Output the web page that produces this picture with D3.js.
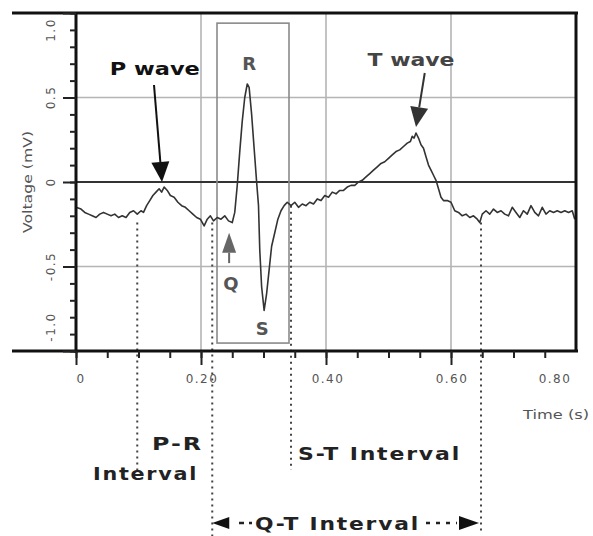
<!DOCTYPE html>
<html>
<head>
<meta charset="utf-8">
<script src="https://cdn.jsdelivr.net/npm/d3@7"></script>
<style>
  body { margin: 0; background: #fff; }
  svg { display: block; }
  .lbl { font-family: "DejaVu Sans", sans-serif; font-weight: bold; fill: #222; }
  .tick-lbl { font-family: "DejaVu Sans", sans-serif; font-size: 12px; fill: #555; }
</style>
</head>
<body>
<svg id="chart" width="593" height="536"></svg>
<script>
// ECG trace (time in s, voltage in mV)
const timeS = [0.000,0.008,0.014,0.020,0.026,0.032,0.038,0.044,0.050,0.056,0.062,0.068,0.074,0.080,0.086,0.092,0.098,0.104,0.108,0.113,
  0.118,0.123,0.128,0.133,0.137,0.141,0.146,0.151,0.157,0.163,0.169,0.175,0.181,0.187,0.193,0.199,0.205,0.210,0.215,0.220,
  0.226,0.232,0.238,0.244,0.250,0.254,0.258,0.262,0.266,0.270,0.274,0.277,0.281,0.285,0.289,0.292,0.294,0.297,0.301,0.305,
  0.309,0.313,0.318,0.323,0.328,0.333,0.338,0.344,0.350,0.356,0.362,0.368,0.374,0.380,0.386,0.392,0.398,0.404,0.410,0.416,
  0.422,0.428,0.434,0.440,0.446,0.452,0.458,0.464,0.470,0.476,0.482,0.488,0.494,0.500,0.506,0.512,0.518,0.524,0.530,0.535,
  0.538,0.541,0.544,0.548,0.552,0.556,0.560,0.564,0.568,0.572,0.576,0.580,0.584,0.588,0.594,0.600,0.606,0.612,0.618,0.624,
  0.630,0.636,0.642,0.646,0.650,0.656,0.662,0.668,0.674,0.680,0.686,0.692,0.698,0.704,0.710,0.716,0.722,0.728,0.734,0.740,
  0.746,0.752,0.758,0.764,0.770,0.776,0.782,0.788,0.794,0.798];
const voltageMV = [-0.15,-0.16,-0.18,-0.19,-0.20,-0.21,-0.19,-0.18,-0.19,-0.20,-0.19,-0.21,-0.20,-0.21,-0.18,-0.17,-0.19,-0.17,-0.18,-0.14,
  -0.11,-0.08,-0.06,-0.04,-0.06,-0.03,-0.05,-0.08,-0.09,-0.12,-0.14,-0.15,-0.17,-0.19,-0.21,-0.22,-0.26,-0.22,-0.20,-0.23,
  -0.21,-0.22,-0.20,-0.23,-0.24,-0.18,-0.02,0.18,0.36,0.50,0.58,0.56,0.40,0.20,0.00,-0.14,-0.40,-0.62,-0.76,-0.66,
  -0.52,-0.38,-0.30,-0.22,-0.17,-0.14,-0.12,-0.14,-0.12,-0.15,-0.13,-0.14,-0.12,-0.13,-0.10,-0.11,-0.08,-0.09,-0.06,-0.07,
  -0.05,-0.05,-0.03,-0.02,-0.02,0.00,0.01,0.03,0.05,0.07,0.09,0.11,0.12,0.14,0.16,0.18,0.19,0.21,0.23,0.24,
  0.27,0.26,0.29,0.26,0.22,0.20,0.15,0.10,0.07,0.04,0.01,-0.04,-0.09,-0.11,-0.11,-0.12,-0.17,-0.18,-0.20,-0.19,
  -0.21,-0.20,-0.22,-0.24,-0.19,-0.17,-0.19,-0.16,-0.18,-0.17,-0.19,-0.20,-0.15,-0.18,-0.21,-0.17,-0.19,-0.14,-0.18,-0.20,
  -0.15,-0.19,-0.17,-0.18,-0.17,-0.18,-0.17,-0.18,-0.17,-0.22];

// axis ticks and labels
const xMajor = [0, 0.2, 0.4, 0.6];
const xLabels = ["0", "0.20", "0.40", "0.60", "0.80"];
const yMajor = [-1, -0.5, 0, 0.5, 1];
const yLabels = ["-1.0", "-0.5", "0", "0.5", "1.0"];

// interval markers (time of each dotted line)
const markerTimes = [0.098, 0.218, 0.344, 0.648];

const svg = d3.select('#chart');

const x = d3.scaleLinear().domain([0, 0.8]).range([76, 576]);
const y = d3.scaleLinear().domain([-1, 1]).range([351, 13]);

// grid lines
svg.append('g').selectAll('line')
  .data([0.2, 0.4, 0.6])
  .join('line')
  .attr('x1', d => x(d)).attr('x2', d => x(d))
  .attr('y1', y(1)).attr('y2', y(-1))
  .attr('stroke', '#b4b4b4').attr('stroke-width', 1.6);

svg.append('g').selectAll('line')
  .data([-0.5, 0.5])
  .join('line')
  .attr('x1', x(0)).attr('x2', x(0.8))
  .attr('y1', d => y(d)).attr('y2', d => y(d))
  .attr('stroke', '#b4b4b4').attr('stroke-width', 1.6);

svg.append('line')
  .attr('x1', x(0)).attr('x2', x(0.8))
  .attr('y1', y(0)).attr('y2', y(0))
  .attr('stroke', '#333').attr('stroke-width', 2);

// box round the QRS complex
svg.append('rect')
  .attr('x', x(0.2256)).attr('y', y(0.94))
  .attr('width', x(0.3408) - x(0.2256))
  .attr('height', y(-0.953) - y(0.94))
  .attr('fill', 'none').attr('stroke', '#8a8a8a').attr('stroke-width', 1.6);

// dotted interval lines
const markerTop = [-0.24, -0.24, -0.14, -0.24];
const markerBottom = [470, 536, 470, 532];
svg.append('g').selectAll('line')
  .data(markerTimes)
  .join('line')
  .attr('x1', d => x(d)).attr('x2', d => x(d))
  .attr('y1', (d, i) => y(markerTop[i]))
  .attr('y2', (d, i) => markerBottom[i])
  .attr('stroke', '#444').attr('stroke-width', 2)
  .attr('stroke-dasharray', '2,4');

// ECG trace
const line = d3.line()
  .x((d, i) => x(timeS[i]))
  .y(d => y(d));
svg.append('path')
  .datum(voltageMV)
  .attr('d', line)
  .attr('fill', 'none')
  .attr('stroke', '#333')
  .attr('stroke-width', 1.6)
  .attr('stroke-linejoin', 'round');

// frame
svg.append('g')
  .attr('stroke', '#111').attr('stroke-width', 3)
  .call(g => {
    g.append('line').attr('x1', 12).attr('x2', 578).attr('y1', y(1)).attr('y2', y(1));
    g.append('line').attr('x1', 12).attr('x2', 578).attr('y1', y(-1)).attr('y2', y(-1));
    g.append('line').attr('x1', x(0)).attr('x2', x(0)).attr('y1', y(1)).attr('y2', y(-1) + 2);
    g.append('line').attr('x1', x(0.8)).attr('x2', x(0.8)).attr('y1', y(1)).attr('y2', y(-1));
  });

// x axis ticks
const xAxisMinor = d3.axisBottom(x).tickValues(d3.range(0, 16).map(i => i * 0.05)).tickSize(7).tickFormat('');
const xAxisMajor = d3.axisBottom(x).tickValues(xMajor).tickSize(14).tickFormat('');
[xAxisMinor, xAxisMajor].forEach(ax => {
  svg.append('g').attr('transform', `translate(0,${y(-1)})`).call(ax)
    .call(g => g.select('.domain').remove())
    .call(g => g.selectAll('line').attr('stroke', '#222').attr('stroke-width', 2));
});

const xLabelShift = [5, 1, 2, 1, -21];
svg.append('g').selectAll('text')
  .data(xLabels)
  .join('text')
  .attr('class', 'tick-lbl')
  .attr('x', (d, i) => x(i * 0.2) + xLabelShift[i])
  .attr('y', 383)
  .attr('text-anchor', 'middle')
  .attr('letter-spacing', 1.5)
  .text(d => d);

// y axis ticks
const yAxisMinor = d3.axisLeft(y).tickValues(d3.range(-10, 11).map(i => i / 10)).tickSize(6).tickFormat('');
const yAxisMajor = d3.axisLeft(y).tickValues(yMajor).tickSize(13).tickFormat('');
[yAxisMinor, yAxisMajor].forEach(ax => {
  svg.append('g').attr('transform', `translate(${x(0)},0)`).call(ax)
    .call(g => g.select('.domain').remove())
    .call(g => g.selectAll('line').attr('stroke', '#222').attr('stroke-width', 2));
});

const yLabelShift = [-24, 0, 0, 0, 17];
svg.append('g').selectAll('text')
  .data(yLabels)
  .join('text')
  .attr('class', 'tick-lbl')
  .attr('text-anchor', 'middle')
  .attr('letter-spacing', 1.5)
  .attr('transform', (d, i) => `translate(55,${y(yMajor[i]) + yLabelShift[i]}) rotate(-90)`)
  .text(d => d);

// axis titles
svg.append('text')
  .attr('class', 'tick-lbl')
  .attr('font-size', 12)
  .attr('text-anchor', 'middle')
  .attr('transform', `translate(32,${y(0)}) rotate(-90)`)
  .attr('textLength', 102).attr('lengthAdjust', 'spacingAndGlyphs')
  .text('Voltage (mV)');

svg.append('text')
  .attr('class', 'tick-lbl')
  .attr('x', 523).attr('y', 419)
  .attr('textLength', 66).attr('lengthAdjust', 'spacingAndGlyphs')
  .text('Time (s)');

// arrows with filled heads
function arrow(x1, y1, x2, y2, color, headLen, headW) {
  const ang = Math.atan2(y2 - y1, x2 - x1);
  const bx = x2 - headLen * Math.cos(ang), by = y2 - headLen * Math.sin(ang);
  const px = -Math.sin(ang) * headW / 2, py = Math.cos(ang) * headW / 2;
  svg.append('line')
    .attr('x1', x1).attr('y1', y1).attr('x2', bx).attr('y2', by)
    .attr('stroke', color).attr('stroke-width', 2);
  svg.append('path')
    .attr('d', `M${x2},${y2}L${bx + px},${by + py}L${bx - px},${by - py}Z`)
    .attr('fill', color);
}

arrow(x(0.1248), y(0.574), x(0.1376), y(0.0), '#111', 20, 18);
arrow(x(0.558), y(0.645), x(0.544), y(0.325), '#333', 20, 18);
arrow(x(0.245), y(-0.48), x(0.245), y(-0.30), '#666', 20, 14);

// wave labels
const waveLabels = [
  { text: 'P wave', t: 0.126, v: 0.633, w: 90, color: '#111' },
  { text: 'R', t: 0.277, v: 0.663, w: 0, color: '#555' },
  { text: 'T wave', t: 0.536, v: 0.686, w: 87, color: '#444' },
  { text: 'Q', t: 0.248, v: -0.639, w: 0, color: '#555' },
  { text: 'S', t: 0.298, v: -0.905, w: 0, color: '#555' }
];
waveLabels.forEach(d => {
  const t = svg.append('text')
    .attr('class', 'lbl')
    .attr('font-size', 18)
    .attr('x', x(d.t)).attr('y', y(d.v))
    .attr('text-anchor', 'middle')
    .style('fill', d.color)
    .text(d.text);
  if (d.w) t.attr('textLength', d.w).attr('lengthAdjust', 'spacingAndGlyphs');
});

// interval labels below the axis
const intervalLabels = [
  { text: 'P-R', x0: 152, y0: 450, w: 51 },
  { text: 'Interval', x0: 93, y0: 480, w: 105 },
  { text: 'S-T Interval', x0: 298, y0: 460, w: 163 },
  { text: 'Q-T Interval', x0: 255, y0: 530, w: 165 }
];
svg.append('g').selectAll('text')
  .data(intervalLabels)
  .join('text')
  .attr('class', 'lbl')
  .attr('font-size', 18)
  .attr('letter-spacing', 1.5)
  .attr('x', d => d.x0).attr('y', d => d.y0)
  .attr('textLength', d => d.w).attr('lengthAdjust', 'spacingAndGlyphs')
  .text(d => d.text);

// Q-T double arrow
const qtY = 523;
svg.append('path').attr('d', `M${x(0.218)},${qtY}L${x(0.218) + 17},${qtY - 6}L${x(0.218) + 17},${qtY + 6}Z`).attr('fill', '#111');
svg.append('path').attr('d', `M${x(0.648) - 2},${qtY}L${x(0.648) - 22},${qtY - 7}L${x(0.648) - 22},${qtY + 7}Z`).attr('fill', '#111');
svg.append('line').attr('x1', 234).attr('x2', 252).attr('y1', qtY).attr('y2', qtY)
  .attr('stroke', '#222').attr('stroke-width', 2.5).attr('stroke-dasharray', '5,5').attr('stroke-dashoffset', -5);
svg.append('line').attr('x1', 426).attr('x2', 457).attr('y1', qtY).attr('y2', qtY)
  .attr('stroke', '#222').attr('stroke-width', 2.5).attr('stroke-dasharray', '4,6');
</script>
</body>
</html>
